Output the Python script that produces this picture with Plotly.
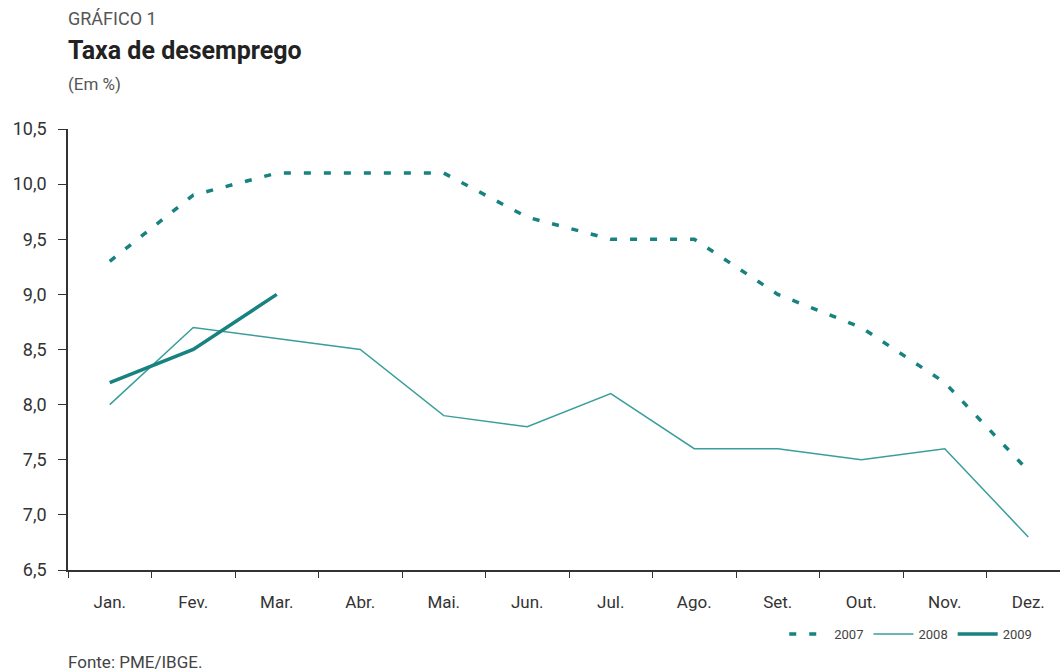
import plotly.graph_objects as go

months = ["Jan.", "Fev.", "Mar.", "Abr.", "Mai.", "Jun.", "Jul.", "Ago.", "Set.", "Out.", "Nov.", "Dez."]
y2007 = [9.3, 9.9, 10.1, 10.1, 10.1, 9.7, 9.5, 9.5, 9.0, 8.7, 8.2, 7.4]
y2008 = [8.0, 8.7, 8.6, 8.5, 7.9, 7.8, 8.1, 7.6, 7.6, 7.5, 7.6, 6.8]
y2009 = [8.2, 8.5, 9.0]
ytick_vals = [6.5, 7.0, 7.5, 8.0, 8.5, 9.0, 9.5, 10.0, 10.5]

FONT = "Roboto"
TEAL = "#17827f"

fig = go.Figure()
fig.add_trace(go.Scatter(x=months, y=y2007, name="2007", mode="lines",
                         line=dict(color=TEAL, width=3.5, dash="7px,13px")))
fig.add_trace(go.Scatter(x=months, y=y2008, name="2008", mode="lines",
                         line=dict(color="#3a9e9b", width=1.5)))
fig.add_trace(go.Scatter(x=months[:len(y2009)], y=y2009, name="2009", mode="lines",
                         line=dict(color=TEAL, width=3.5)))

fig.update_layout(
    width=1060, height=672,
    margin=dict(l=68, r=0, t=129, b=102),
    paper_bgcolor="white", plot_bgcolor="white",
    separators=",.",
    font=dict(family=FONT, color="#333333", size=14),
    showlegend=True,
    legend=dict(orientation="h", x=0.722, xref="paper", y=-0.145, yanchor="middle",
                font=dict(size=13, color="#444444"), itemwidth=40,
                tracegroupgap=0, bgcolor="rgba(0,0,0,0)"),
    xaxis=dict(type="category", range=[-0.5, 11.38], showline=True, linecolor="#333333",
               linewidth=1.5, ticks="outside", tickson="boundaries", ticklen=6,
               tickcolor="#333333", showgrid=False, zeroline=False, ticklabelstandoff=16,
               tickfont=dict(size=17, color="#333333", family=FONT)),
    yaxis=dict(range=[6.5, 10.5], tickvals=ytick_vals, tickformat=".1f", showline=True,
               linecolor="#333333", linewidth=1.5, ticks="outside", ticklen=8,
               tickcolor="#333333", showgrid=False, zeroline=False, ticklabelstandoff=8,
               tickfont=dict(size=18, color="#333333", family=FONT)),
)

fig.add_annotation(text="GRÁFICO 1", xref="paper", yref="paper", x=0.0, y=1.0,
                   xanchor="left", yanchor="middle", yshift=111, xshift=-2,
                   showarrow=False, font=dict(size=18, color="#555555", family=FONT))
fig.add_annotation(text="<b>Taxa de desemprego</b>", xref="paper", yref="paper", x=0.0, y=1.0,
                   xanchor="left", yanchor="middle", yshift=79, xshift=-2,
                   showarrow=False, font=dict(size=25, color="#222222", family=FONT))
fig.add_annotation(text="(Em %)", xref="paper", yref="paper", x=0.0, y=1.0,
                   xanchor="left", yanchor="middle", yshift=45, xshift=-2,
                   showarrow=False, font=dict(size=17, color="#555555", family=FONT))
fig.add_annotation(text="Fonte: PME/IBGE.", xref="paper", yref="paper", x=0.0, y=0.0,
                   xanchor="left", yanchor="middle", yshift=-92, xshift=-2,
                   showarrow=False, font=dict(size=17, color="#444444", family=FONT))

fig.write_html("out.html")
